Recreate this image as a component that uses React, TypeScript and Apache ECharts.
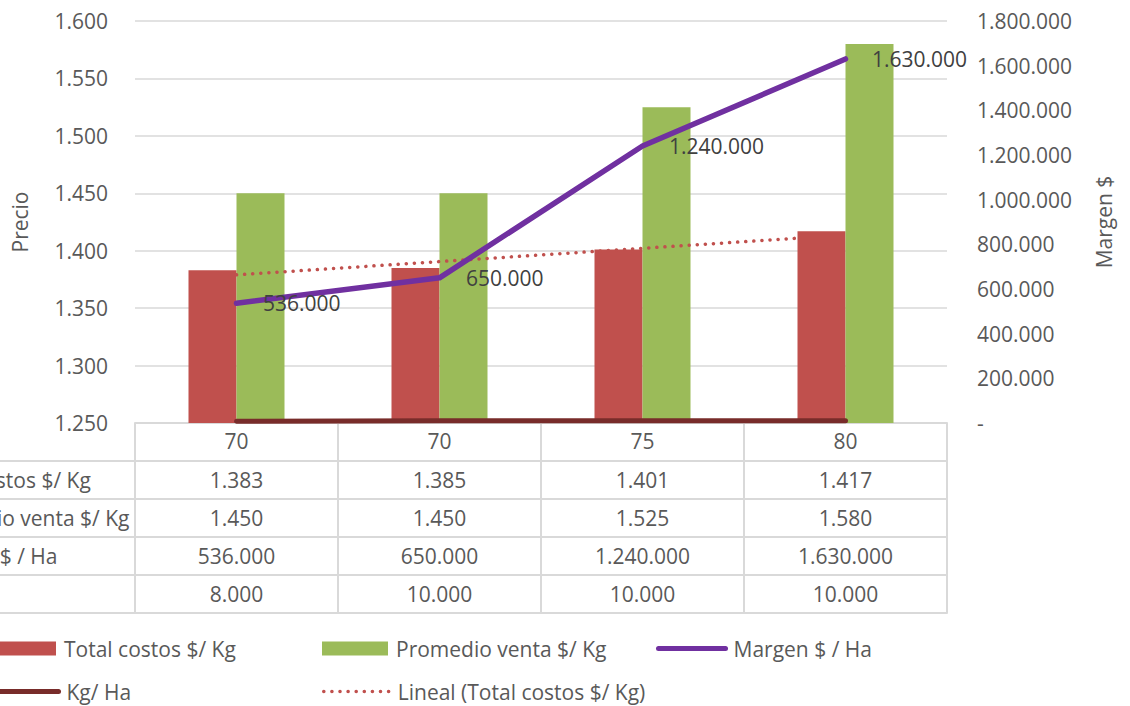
import React, { useEffect, useRef } from "react";
import * as echarts from "echarts";

// ---- data ----
const categories = ["70", "70", "75", "80"];
const totalCostos = [1383, 1385, 1401, 1417];
const promedioVenta = [1450, 1450, 1525, 1580];
const margen = [536000, 650000, 1240000, 1630000];
const kgHa = [8000, 10000, 10000, 10000];
// linear trendline endpoints (x in category positions, 1-based)
const trendX = [1, 3.77];
const trendY = [1379, 1411];

const seriesNames = [
  "Total costos $/ Kg",
  "Promedio venta $/ Kg",
  "Margen $ / Ha",
  "Kg/ Ha",
  "Lineal (Total costos $/ Kg)",
];

const fmt = (v: number) => String(Math.round(v)).replace(/\B(?=(\d{3})+(?!\d))/g, ".");

// ---- layout ----
const W = 1130;
const H = 706;
const GRID_LEFT = 135;
const GRID_RIGHT_X = 947;
const GRID_TOP = 21;
const GRID_BOTTOM_Y = 423;
const ROW_H = 38;
const FONT = "Open Sans";
const FS = 21;
const TXT = "#595959";
const LINE = "#D9D9D9";

const RED = "#C0504D";
const GREEN = "#9BBB59";
const PURPLE = "#7030A0";
const DARKRED = "#782C2A";
const DOTS = [0.1, 8];

export default function App() {
  const ref = useRef<HTMLDivElement>(null);
  useEffect(() => {
    if (!ref.current) return;
    const chart = echarts.init(ref.current, undefined, { renderer: "svg" });

    const tableRows = [totalCostos, promedioVenta, margen, kgHa];

    const rowAxes = tableRows.map((row, i) => ({
      type: "category",
      gridIndex: 0,
      position: "bottom",
      offset: ROW_H * (i + 1),
      data: row.map(fmt),
      boundaryGap: true,
      axisLine: { show: true, lineStyle: { color: LINE, width: 2 } },
      axisTick: { show: true, interval: 0, length: ROW_H, lineStyle: { color: LINE, width: 2 } },
      axisLabel: { interval: 0, margin: 8, color: TXT, fontSize: FS, fontFamily: FONT },
      splitLine: { show: false },
    }));

    const graphics: any[] = [];
    for (let k = 1; k <= 5; k++) {
      graphics.push({
        type: "line",
        shape: { x1: -5, y1: GRID_BOTTOM_Y + k * ROW_H, x2: GRID_LEFT, y2: GRID_BOTTOM_Y + k * ROW_H },
        style: { stroke: LINE, lineWidth: 2 },
        silent: true,
      });
    }
    seriesNames.slice(0, 4).forEach((name, i) => {
      graphics.push({
        type: "text",
        x: -81,
        y: GRID_BOTTOM_Y + (i + 1) * ROW_H + ROW_H / 2,
        style: {
          text: name,
          fill: TXT,
          font: `${FS}px "${FONT}"`,
          textAlign: "left",
          verticalAlign: "middle",
        },
        silent: true,
      });
    });

    const legendBase = {
      selectedMode: false,
      orient: "horizontal",
      padding: 0,
      itemHeight: 14,
      itemWidth: 66,
      textStyle: { color: TXT, fontSize: FS, fontFamily: FONT, padding: [0, 0, 0, 3] },
    };
    const hiddenSymbol = { opacity: 0 };

    const option: any = {
      animation: false,
      backgroundColor: "#ffffff",
      textStyle: { fontFamily: FONT },
      grid: {
        left: GRID_LEFT,
        right: W - GRID_RIGHT_X,
        top: GRID_TOP,
        bottom: H - GRID_BOTTOM_Y,
        containLabel: false,
      },
      legend: [
        { ...legendBase, left: -10, top: 638, data: [{ name: seriesNames[0], icon: "rect" }] },
        { ...legendBase, left: 322, top: 638, data: [{ name: seriesNames[1], icon: "rect" }] },
        {
          ...legendBase,
          left: 656,
          top: 638,
          itemWidth: 67,
          itemStyle: hiddenSymbol,
          lineStyle: { width: 5, cap: "round", type: "solid" },
          data: [{ name: seriesNames[2] }],
        },
        {
          ...legendBase,
          left: -10,
          top: 681,
          itemStyle: hiddenSymbol,
          lineStyle: { width: 5, cap: "round", type: "solid" },
          data: [{ name: seriesNames[3] }],
        },
        {
          ...legendBase,
          left: 322,
          top: 681,
          itemStyle: hiddenSymbol,
          lineStyle: { width: 3.5, cap: "round", type: DOTS },
          data: [{ name: seriesNames[4] }],
        },
      ],
      xAxis: [
        {
          type: "category",
          gridIndex: 0,
          position: "bottom",
          data: categories,
          boundaryGap: true,
          axisLine: { show: true, lineStyle: { color: LINE, width: 2 } },
          axisTick: { show: true, interval: 0, length: ROW_H, lineStyle: { color: LINE, width: 2 } },
          axisLabel: { interval: 0, margin: 7, color: TXT, fontSize: FS, fontFamily: FONT },
          splitLine: { show: false },
        },
        ...rowAxes,
        {
          type: "category",
          gridIndex: 0,
          position: "bottom",
          offset: ROW_H * 5,
          data: categories,
          axisLine: { show: true, lineStyle: { color: LINE, width: 2 } },
          axisTick: { show: false },
          axisLabel: { show: false },
          splitLine: { show: false },
        },
        {
          type: "value",
          gridIndex: 0,
          show: false,
          min: 0.5,
          max: 4.5,
        },
      ],
      yAxis: [
        {
          type: "value",
          min: 1250,
          max: 1600,
          interval: 50,
          name: "Precio",
          nameLocation: "middle",
          nameGap: 105,
          nameTextStyle: { color: TXT, fontSize: FS, fontFamily: FONT },
          axisLine: { show: false },
          axisTick: { show: false },
          axisLabel: { color: TXT, fontSize: FS, fontFamily: FONT, margin: 27, formatter: (v: number) => fmt(v) },
          splitLine: { show: true, lineStyle: { color: LINE, width: 1.5 } },
        },
        {
          type: "value",
          min: 0,
          max: 1800000,
          interval: 200000,
          position: "right",
          name: "Margen $",
          nameLocation: "middle",
          nameGap: 146,
          nameTextStyle: { color: TXT, fontSize: FS, fontFamily: FONT },
          axisLine: { show: false },
          axisTick: { show: false },
          axisLabel: {
            color: TXT,
            fontSize: FS,
            fontFamily: FONT,
            margin: 30,
            formatter: (v: number) => (v === 0 ? "-" : fmt(v)),
          },
          splitLine: { show: false },
        },
      ],
      series: [
        {
          name: seriesNames[0],
          type: "bar",
          xAxisIndex: 0,
          yAxisIndex: 0,
          data: totalCostos,
          barWidth: 48,
          barGap: "0%",
          itemStyle: { color: RED },
          z: 2,
        },
        {
          name: seriesNames[1],
          type: "bar",
          xAxisIndex: 0,
          yAxisIndex: 0,
          data: promedioVenta,
          barWidth: 48,
          barGap: "0%",
          itemStyle: { color: GREEN },
          z: 2,
        },
        {
          name: seriesNames[3],
          type: "line",
          xAxisIndex: 0,
          yAxisIndex: 1,
          data: kgHa,
          symbol: "none",
          lineStyle: { color: DARKRED, width: 5, cap: "round" },
          itemStyle: { color: DARKRED },
          z: 3,
        },
        {
          name: seriesNames[4],
          type: "line",
          xAxisIndex: 6,
          yAxisIndex: 0,
          data: trendX.map((x, i) => [x, trendY[i]]),
          symbol: "none",
          lineStyle: { color: RED, width: 3.5, type: DOTS, cap: "round" },
          itemStyle: { color: RED },
          z: 4,
        },
        {
          name: seriesNames[2],
          type: "line",
          xAxisIndex: 0,
          yAxisIndex: 1,
          data: margen,
          symbol: "circle",
          symbolSize: 1,
          showSymbol: true,
          lineStyle: { color: PURPLE, width: 5.5, cap: "round", join: "round" },
          itemStyle: { color: PURPLE },
          label: {
            show: true,
            position: "right",
            distance: 26,
            color: "#404040",
            fontSize: FS,
            fontFamily: FONT,
            formatter: (p: any) => fmt(p.value),
          },
          z: 5,
        },
      ],
      graphic: graphics,
    };

    chart.setOption(option);
    return () => chart.dispose();
  }, []);

  return (
    <div
      ref={ref}
      style={{ position: "fixed", left: 0, top: 0, width: W, height: H, background: "#fff" }}
    />
  );
}
